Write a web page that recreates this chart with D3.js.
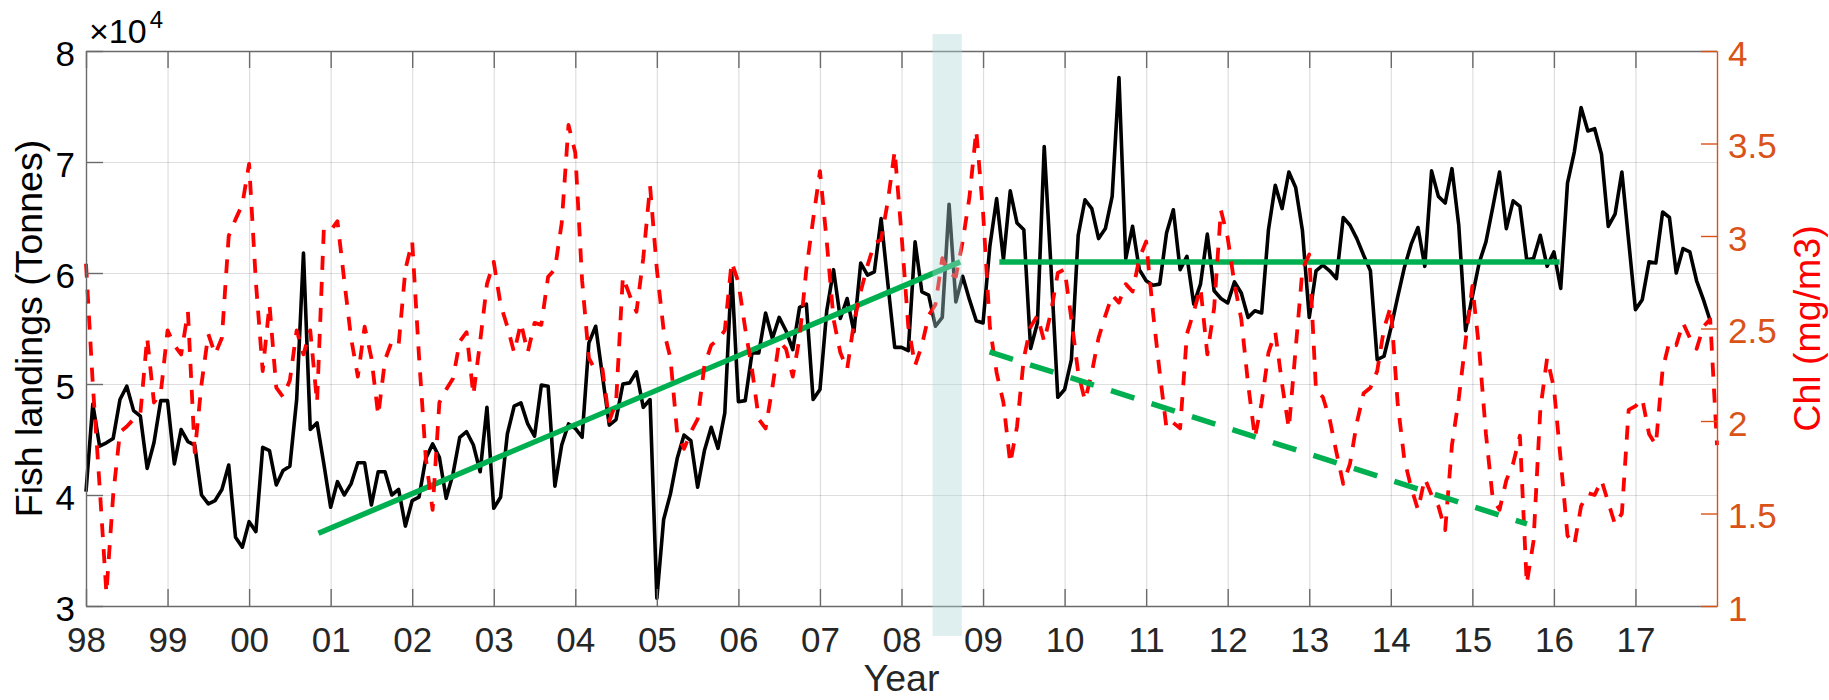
<!DOCTYPE html>
<html><head><meta charset="utf-8">
<script src="https://cdn.jsdelivr.net/npm/d3@7"></script>
<style>body{margin:0;background:#fff} svg{display:block}</style>
</head><body><svg id="c" width="1829" height="700"></svg>
<script>
// ---- data ----
const tickYears = d3.range(1998, 2018);
const tickYearLabels = ['98','99','00','01','02','03','04','05','06','07','08','09','10','11','12','13','14','15','16','17'];
const startYear = 1998; // monthly series start (Jan 1998)
// Fish landings, x 10^4 tonnes, monthly Jan 1998 - Dec 2017
const fishLandings = [
 4.03,4.82,4.44,4.47,4.51,4.86,4.98,4.76,4.71,4.24,4.47,4.85,
 4.85,4.28,4.59,4.48,4.45,4.00,3.92,3.95,4.05,4.27,3.62,3.53,
 3.76,3.67,4.43,4.40,4.09,4.22,4.26,4.86,6.18,4.59,4.65,4.28,
 3.89,4.12,4.00,4.10,4.29,4.29,3.91,4.21,4.21,4.00,4.05,3.72,
 3.95,3.98,4.33,4.46,4.34,3.97,4.19,4.52,4.57,4.45,4.21,4.79,
 3.88,3.98,4.55,4.80,4.83,4.64,4.53,4.99,4.98,4.08,4.45,4.64,
 4.60,4.52,5.37,5.52,5.07,4.63,4.68,5.00,5.01,5.11,4.79,4.86,
 3.07,3.78,4.01,4.33,4.54,4.49,4.07,4.40,4.61,4.42,4.74,6.02,
 4.84,4.85,5.28,5.28,5.64,5.41,5.60,5.48,5.31,5.69,5.72,4.86,
 4.95,5.66,6.03,5.59,5.77,5.47,6.09,5.98,6.01,6.49,5.90,5.33,
 5.33,5.30,6.28,5.83,5.80,5.52,5.60,6.62,5.74,5.97,5.76,5.57,
 5.55,6.24,6.67,6.12,6.74,6.45,6.39,5.32,5.55,7.14,6.05,4.88,
 4.95,5.22,6.34,6.66,6.58,6.31,6.40,6.69,7.76,6.13,6.42,6.03,
 5.93,5.89,5.90,6.36,6.57,6.03,6.15,5.72,5.90,6.35,5.84,5.77,
 5.73,5.92,5.82,5.60,5.66,5.64,6.39,6.79,6.58,6.91,6.77,6.38,
 5.60,6.02,6.07,6.02,5.95,6.50,6.43,6.31,6.16,6.02,5.22,5.25,
 5.50,5.78,6.05,6.26,6.41,6.06,6.92,6.69,6.63,6.94,6.43,5.48,
 5.79,6.09,6.28,6.59,6.91,6.40,6.65,6.60,6.12,6.13,6.34,6.06,
 6.19,5.86,6.81,7.09,7.49,7.28,7.30,7.07,6.42,6.53,6.91,6.29,
 5.67,5.76,6.10,6.09,6.55,6.50,6.00,6.22,6.19,5.93,5.76,5.57
];
// Chl (mg/m3), monthly Jan 1998 - Jan 2018
const chl = [
 2.85,2.20,1.65,1.07,1.60,1.94,1.97,2.01,2.04,2.45,2.10,2.15,
 2.49,2.41,2.36,2.59,1.83,2.20,2.47,2.36,2.45,3.00,3.09,3.17,
 3.39,2.75,2.27,2.63,2.18,2.13,2.22,2.49,2.36,2.49,2.10,3.04,
 3.03,3.08,2.76,2.45,2.24,2.51,2.34,2.03,2.33,2.43,2.41,2.82,
 2.97,2.35,1.80,1.52,2.10,2.17,2.23,2.43,2.48,2.14,2.43,2.74,
 2.86,2.63,2.51,2.37,2.53,2.37,2.53,2.52,2.78,2.82,3.07,3.60,
 3.45,2.76,2.34,2.27,2.28,2.00,2.10,2.78,2.68,2.59,2.88,3.27,
 2.82,2.49,2.34,1.93,1.85,1.94,2.01,2.30,2.41,2.44,2.49,2.86,
 2.75,2.50,2.28,2.01,1.96,2.18,2.43,2.39,2.24,2.45,2.82,3.09,
 3.35,2.97,2.55,2.37,2.28,2.53,2.70,2.84,2.96,2.98,3.19,3.46,
 3.01,2.51,2.30,2.41,2.57,2.63,2.88,2.80,2.78,2.97,3.21,3.57,
 3.13,2.51,2.26,2.10,1.77,1.97,2.34,2.51,2.57,2.43,2.59,2.80,
 2.82,2.55,2.26,2.11,2.26,2.45,2.57,2.68,2.64,2.74,2.70,2.88,
 2.97,2.59,2.26,1.96,1.99,1.96,2.47,2.59,2.72,2.36,2.61,3.14,
 2.99,2.74,2.55,2.20,1.91,2.10,2.37,2.48,2.20,1.96,2.39,2.82,
 2.90,2.16,2.13,2.01,1.83,1.66,1.77,1.99,2.15,2.18,2.27,2.50,
 2.62,2.10,1.79,1.64,1.52,1.69,1.60,1.54,1.41,1.87,2.12,2.43,
 2.73,2.39,1.93,1.58,1.52,1.68,1.77,1.92,1.12,1.35,2.06,2.34,
 2.18,1.79,1.38,1.33,1.54,1.61,1.60,1.68,1.56,1.44,1.50,2.06,
 2.08,2.12,1.93,1.87,2.28,2.43,2.41,2.53,2.45,2.39,2.51,2.55,
 1.87
];
const leftTicks = [3,4,5,6,7,8];
const rightTicks = [1,1.5,2,2.5,3,3.5,4];
const rightTickLabels = ['1','1.5','2','2.5','3','3.5','4'];
// trend lines [year, value]
const fishTrendRise = [[2000.85,3.655],[2008.72,6.10]];
const fishTrendFlat = [[2009.2,6.10],[2016.07,6.10]];
const chlTrend = [[2009.08,2.374],[2015.67,1.444]];
// shaded period (years) and its vertical extent (left-axis units)
const bandYears = [2008.38,2008.74];
const bandExtent = [2.73,8.153];

// ---- layout ----
const L=86, R=1717, T=51, B=606;
const FONT = "'Liberation Sans', Arial, Helvetica, sans-serif";
const TICKFS = 35;
const svg = d3.select('#c');
const x = d3.scaleLinear().domain([1998,2018]).range([L,R]);
const yL = d3.scaleLinear().domain([3,8]).range([B,T]);
const yR = d3.scaleLinear().domain([1,4]).range([B,T]);
const AX = '#6a6a6a', ORANGE = '#D95319';

// grid
const gx = svg.append('g').attr('transform',`translate(0,${B})`)
  .call(d3.axisBottom(x).tickValues(tickYears.slice(1)).tickSize(-(B-T)).tickFormat(''));
gx.select('.domain').remove();
gx.selectAll('line').attr('stroke','#000').attr('stroke-opacity',0.13).attr('stroke-width',1.2);
const gy = svg.append('g').attr('transform',`translate(${L},0)`)
  .call(d3.axisLeft(yL).tickValues([4,5,6,7]).tickSize(-(R-L)).tickFormat(''));
gy.select('.domain').remove();
gy.selectAll('line').attr('stroke','#000').attr('stroke-opacity',0.13).attr('stroke-width',1.2);

// lines
const monthX = (i)=> x(startYear + i/12);
const fishLine = d3.line().x((d,i)=>monthX(i)).y(d=>yL(d));
const chlLine = d3.line().x((d,i)=>monthX(i)).y(d=>yR(d));
const segL = d3.line().x(d=>x(d[0])).y(d=>yL(d[1]));
const segR = d3.line().x(d=>x(d[0])).y(d=>yR(d[1]));

svg.append('path').datum(fishLandings).attr('d',fishLine)
  .attr('fill','none').attr('stroke','#000').attr('stroke-width',3.6).attr('stroke-linejoin','round');
svg.append('path').datum(fishTrendRise).attr('d',segL)
  .attr('fill','none').attr('stroke','#00B050').attr('stroke-width',5.5);
svg.append('path').datum(fishTrendFlat).attr('d',segL)
  .attr('fill','none').attr('stroke','#00B050').attr('stroke-width',5.5);
svg.append('path').datum(chl).attr('d',chlLine)
  .attr('fill','none').attr('stroke','#FF0000').attr('stroke-width',3.8)
  .attr('stroke-dasharray','14,12').attr('stroke-linejoin','round');
svg.append('path').datum(chlTrend).attr('d',segR)
  .attr('fill','none').attr('stroke','#00B050').attr('stroke-width',5.5)
  .attr('stroke-dasharray','24.5,18');

// axes
function styleAxis(g, col, textCol, size){
  g.select('.domain').attr('stroke',col).attr('stroke-width',1.4);
  g.selectAll('.tick line').attr('stroke',col).attr('stroke-width',1.4);
  g.selectAll('text').attr('fill',textCol).attr('font-family',FONT).attr('font-size',size);
}
const axB = svg.append('g').attr('transform',`translate(0,${B})`)
  .call(d3.axisBottom(x).tickValues(tickYears).tickSizeInner(-17).tickSizeOuter(0).tickPadding(21)
  .tickFormat((d,i)=>tickYearLabels[i]));
styleAxis(axB, AX, '#262626', TICKFS);
const axT = svg.append('g').attr('transform',`translate(0,${T})`)
  .call(d3.axisTop(x).tickValues(tickYears).tickSizeInner(-17).tickSizeOuter(0).tickFormat(''));
styleAxis(axT, AX, '#262626', TICKFS);
const axLft = svg.append('g').attr('transform',`translate(${L},0)`)
  .call(d3.axisLeft(yL).tickValues(leftTicks).tickSizeInner(-17).tickSizeOuter(0).tickPadding(11).tickFormat(d3.format('d')));
styleAxis(axLft, AX, '#000', TICKFS);
axLft.selectAll('text').attr('dy','0.4em');
const axRt = svg.append('g').attr('transform',`translate(${R},0)`)
  .call(d3.axisRight(yR).tickValues(rightTicks).tickSizeInner(-16).tickSizeOuter(0).tickPadding(11)
  .tickFormat((d,i)=>rightTickLabels[i]));
styleAxis(axRt, ORANGE, ORANGE, TICKFS);
axRt.selectAll('text').attr('dy','0.4em');

// band (semi-transparent overlay)
svg.append('rect')
  .attr('x',x(bandYears[0])).attr('width',x(bandYears[1])-x(bandYears[0]))
  .attr('y',yL(bandExtent[1])).attr('height',yL(bandExtent[0])-yL(bandExtent[1]))
  .attr('fill','rgb(176,214,214)').attr('fill-opacity',0.4);

// labels
svg.append('text').attr('x',(L+R)/2).attr('y',691).attr('text-anchor','middle')
  .attr('font-family',FONT).attr('font-size',37.5).attr('fill','#262626').text('Year');
svg.append('text').attr('transform',`translate(42,${(T+B)/2}) rotate(-90)`).attr('text-anchor','middle')
  .attr('font-family',FONT).attr('font-size',37.5).attr('fill','#000').text('Fish landings (Tonnes)');
svg.append('text').attr('transform',`translate(1820,${(T+B)/2}) rotate(-90)`).attr('text-anchor','middle')
  .attr('font-family',FONT).attr('font-size',37.5).attr('fill','#FF0000').text('Chl (mg/m3)');
const ex = svg.append('text').attr('x',89).attr('y',43).attr('font-family',FONT).attr('font-size',34).attr('fill','#000');
ex.append('tspan').text('\u00d710');
ex.append('tspan').attr('dx',3).attr('dy',-15).attr('font-size',24).text('4');
</script></body></html>
